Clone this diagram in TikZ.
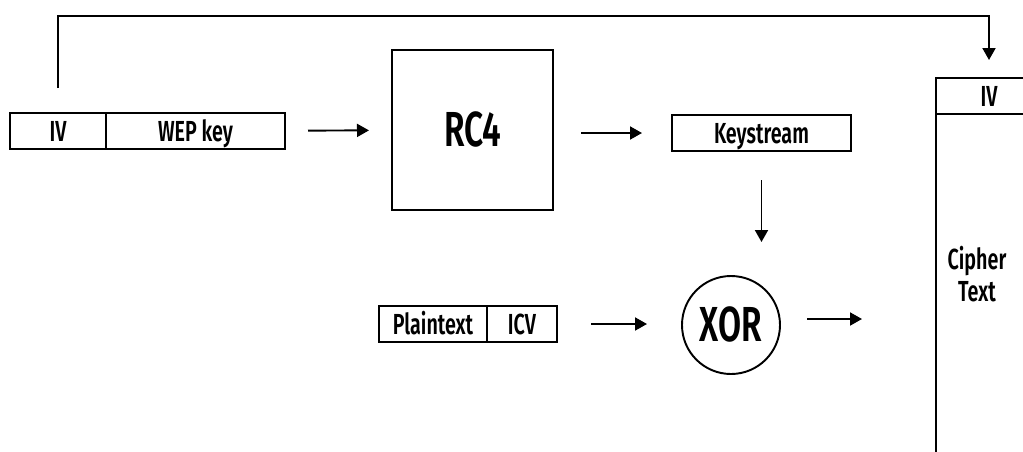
\documentclass[tikz,border=0pt]{standalone}
\usepackage{fontspec}
\setmainfont{Fira Sans}[UprightFont=* SemiBold, FakeStretch=0.68]
\usepackage{tikz}
\usetikzlibrary{arrows.meta,positioning}
\newcommand{\lblsize}{\fontsize{16.5pt}{19pt}\selectfont}
\newcommand{\bigsize}{\fontsize{28pt}{32pt}\selectfont}

\begin{document}
\begin{tikzpicture}[
  cell/.style={draw, line width=1.1pt, inner sep=0pt, outer sep=0pt,
               minimum height=7.2mm, font=\lblsize, text height=11.4pt, text depth=0pt},
  big/.style={font=\bigsize, text height=19.3pt},
  arrow/.style={-{Triangle[length=2.4mm, width=2.6mm]}, line width=1.1pt}]
  \useasboundingbox (0,0) rectangle (20.46,9.02);
  \node[cell, minimum width=1.92cm] (iv1) at (1.16,6.40) {IV};
  \node[cell, minimum width=3.58cm, right=0pt of iv1] (wep) {WEP key};
  \node[cell, big, minimum width=3.22cm, minimum height=3.2cm] (rc4) at (9.45,6.42) {RC4};
  \node[cell, minimum width=3.58cm] (key) at (15.23,6.36) {Keystream};
  \node[cell, big, circle, minimum size=1.96cm] (xor) at (14.62,2.52) {XOR};
  \node[cell, minimum width=2.16cm] (pt) at (8.66,2.54) {Plaintext};
  \node[cell, minimum width=1.40cm, right=0pt of pt] (icv) {ICV};
  \node[cell, minimum width=2.12cm] (civ) at (19.78,7.10) {IV};
  \node[cell, minimum width=2.12cm, minimum height=7.2cm, below=0pt of civ] (cbody) {};
  \node[font=\lblsize, align=center, inner sep=0pt] (ctext) at (19.54,3.54) {Cipher\\[-1pt]Text};
  \draw[arrow, shorten <=4.6mm, shorten >=4.6mm] (wep) -- (rc4);
  \draw[arrow, shorten <=5.6mm, shorten >=6mm] (rc4.east |- key.west) -- (key.west);
  \draw[arrow, shorten <=5.8mm, shorten >=6.8mm] (key.south) -- (key.south |- xor.north);
  \draw[arrow, shorten <=6.8mm, shorten >=7mm] (icv.east) -- (icv.east -| xor.west);
  \draw[arrow, shorten <=5.4mm, shorten >=14.8mm] ([yshift=1.2mm]xor.east) -- ([yshift=1.2mm]xor.east -| cbody.west);
  % IV goes along with the frame
  \draw[arrow] ([yshift=5mm]iv1.north) |- ([yshift=12.4mm]civ.north) -- ([yshift=3.6mm]civ.north);
\end{tikzpicture}
\end{document}
